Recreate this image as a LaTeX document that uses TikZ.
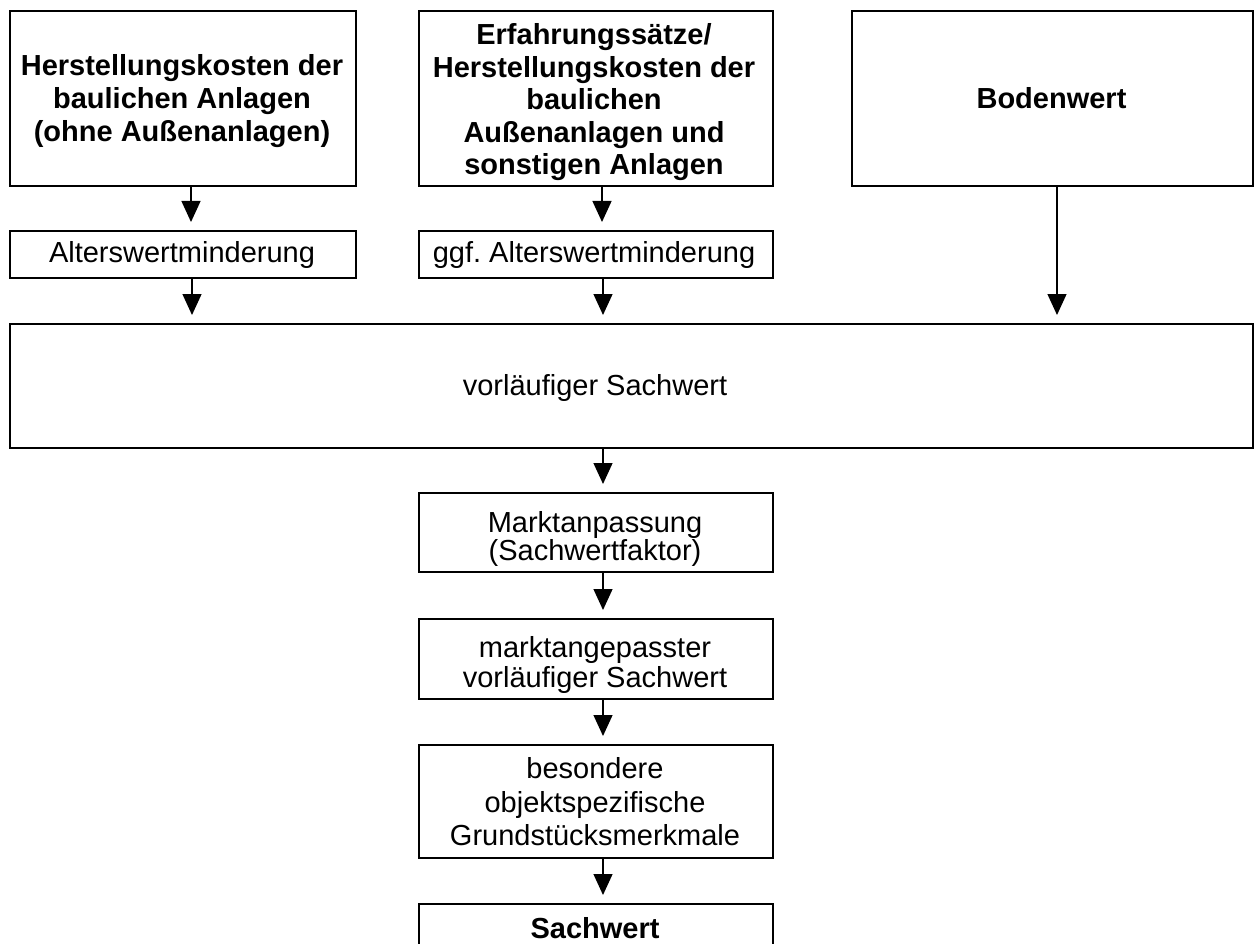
\documentclass[tikz,border=0pt]{standalone}
\usepackage{fontspec}
\setmainfont{Liberation Sans}
\usetikzlibrary{arrows.meta}
\frenchspacing
\begin{document}
\frenchspacing
\begin{tikzpicture}[x=1pt,y=-1pt,
  box/.style={draw, line width=2pt, inner sep=0pt, anchor=north west},
  txt/.style={align=center, inner sep=0pt, font=\fontsize{29}{33}\selectfont},
  btxt/.style={align=center, inner sep=0pt, font=\fontsize{29}{33}\selectfont\bfseries},
  arr/.style={line width=1.3pt, -{Triangle[length=21pt,width=19pt]}, shorten >=8pt}]
\useasboundingbox (0,0) rectangle (1255,944);
\clip (0,0) rectangle (1255,944);
% top row
\node[box, minimum width=346pt, minimum height=175pt] (A) at (9,10) {};
\node[box, minimum width=354pt, minimum height=175pt] (B) at (418,10) {};
\node[box, minimum width=401pt, minimum height=175pt] (C) at (851,10) {};
\node[btxt] (At) at (182,101.5) {Herstellungskosten der\\baulichen Anlagen\\(ohne Außenanlagen)};
\node[btxt, font=\fontsize{29}{32.5}\selectfont\bfseries] (Bt) at (594,102.5) {Erfahrungssätze/\\Herstellungskosten der\\baulichen\\Außenanlagen und\\sonstigen Anlagen};
\node[btxt] (Ct) at (1051.5,98.5) {Bodenwert};
% second row
\node[box, minimum width=346pt, minimum height=47pt] (AL) at (9,230) {};
\node[box, minimum width=354pt, minimum height=47pt] (BL) at (418,230) {};
\node[txt] (ALt) at (182,255) {Alterswertminderung};
\node[txt] (BLt) at (594,255.5) {ggf. Alterswertminderung};
% wide box
\node[box, minimum width=1243pt, minimum height=124pt] (V) at (9,323) {};
\node[txt] (Vt) at (595,388.5) {vorläufiger Sachwert};
% middle column
\node[box, minimum width=354pt, minimum height=79pt] (M1) at (418,492) {};
\node[txt, font=\fontsize{29}{28}\selectfont] (M1t) at (595,539) {Marktanpassung\\(Sachwertfaktor)};
\node[box, minimum width=354pt, minimum height=80pt] (M2) at (418,618) {};
\node[txt, font=\fontsize{29}{30}\selectfont] (M2t) at (595,665) {marktangepasster\\vorläufiger Sachwert};
\node[box, minimum width=354pt, minimum height=113pt] (M3) at (418,744) {};
\node[txt, font=\fontsize{29}{33.5}\selectfont] (M3t) at (595,802) {besondere\\objektspezifische\\Grundstücksmerkmale};
\node[box, minimum width=354pt, minimum height=56pt] (M4) at (418,903) {};
\node[btxt] (M4t) at (595,928) {Sachwert};
% arrows
\draw[arr] ([xshift=8pt]A.south) -- ([xshift=8pt]AL.north);
\draw[arr] ([xshift=9pt]AL.south) -- ([xshift=9pt]AL.south |- V.north);
\draw[arr] ([xshift=6pt]B.south) -- ([xshift=6pt]BL.north);
\draw[arr] ([xshift=7pt]BL.south) -- ([xshift=7pt]BL.south |- V.north);
\draw[arr] ([xshift=4.5pt]C.south) -- ([xshift=4.5pt]C.south |- V.north);
\draw[arr] ([xshift=7pt]M1.north |- V.south) -- ([xshift=7pt]M1.north);
\draw[arr] ([xshift=7pt]M1.south) -- ([xshift=7pt]M2.north);
\draw[arr] ([xshift=7pt]M2.south) -- ([xshift=7pt]M3.north);
\draw[arr] ([xshift=7pt]M3.south) -- ([xshift=7pt]M4.north);
\end{tikzpicture}
\end{document}
